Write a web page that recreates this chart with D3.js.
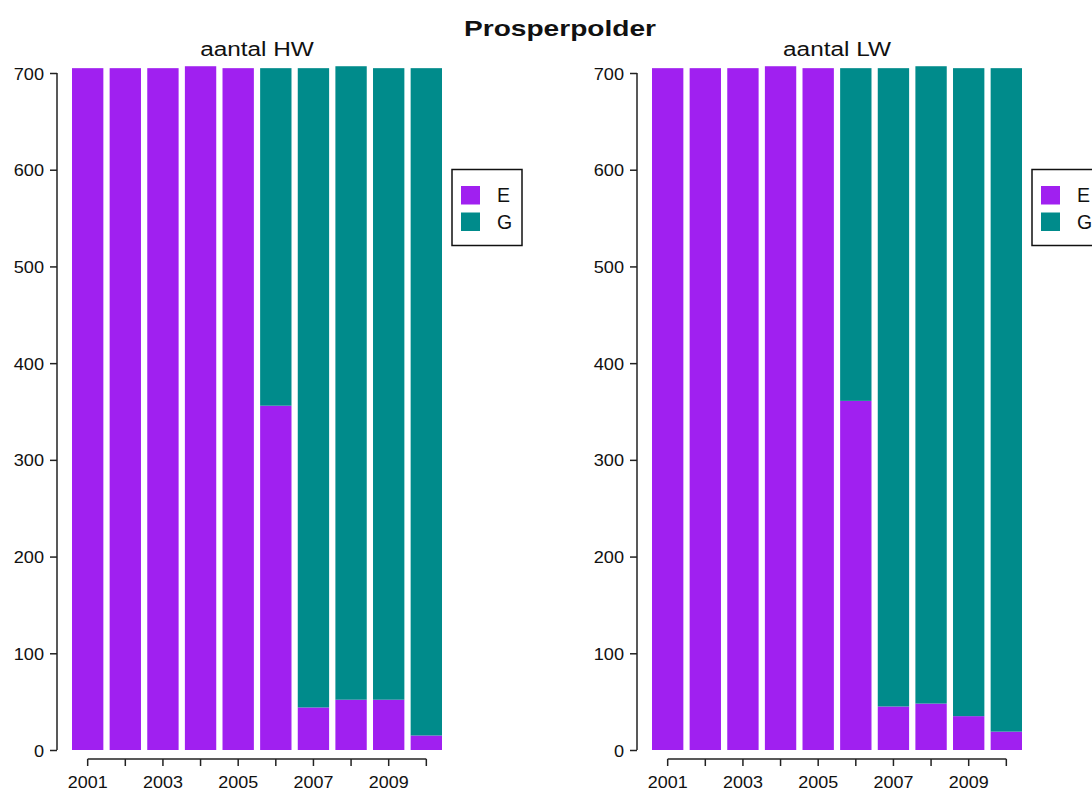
<!DOCTYPE html>
<html>
<head>
<meta charset="utf-8">
<script src="https://cdn.jsdelivr.net/npm/d3@7"></script>
<style>
  html, body { margin: 0; padding: 0; background: #fff; }
  svg { display: block; font-family: "Liberation Sans", Arial, Helvetica, sans-serif; }
</style>
</head>
<body>
<svg id="chart" width="1092" height="791"></svg>
<script>
// ---- data ----
const years = [2001, 2002, 2003, 2004, 2005, 2006, 2007, 2008, 2009, 2010];
const seriesKeys = ["E", "G"];
const hwE = [705, 705, 705, 707, 705, 356, 44, 52, 52, 15];
const hwG = [0, 0, 0, 0, 0, 349, 661, 655, 653, 690];
const lwE = [705, 705, 705, 707, 705, 361, 45, 48, 35, 19];
const lwG = [0, 0, 0, 0, 0, 344, 660, 659, 670, 686];
const yTicks = [0, 100, 200, 300, 400, 500, 600, 700];
const xLabelYears = [2001, 2003, 2005, 2007, 2009];
const mainTitle = "Prosperpolder";
const panelTitles = ["aantal HW", "aantal LW"];

const colors = { E: "#A020F0", G: "#008B8B" };
const svg = d3.select("#chart");

function stretchText(g, x, y, txt, size, sx, anchor, weight) {
  g.append("text")
    .attr("transform", `translate(${x},${y}) scale(${sx},1)`)
    .attr("text-anchor", anchor || "middle")
    .attr("font-size", size)
    .attr("font-weight", weight || "normal")
    .attr("fill", "#111")
    .text(txt);
}

stretchText(svg, 560, 36, mainTitle, 22.5, 1.25, "middle", "bold");

const panels = [
  { E: hwE, G: hwG, title: panelTitles[0], dx: 0 },
  { E: lwE, G: lwG, title: panelTitles[1], dx: 580 }
];

const y = d3.scaleLinear().domain([0, 700]).range([750, 73]);

panels.forEach(p => {
  const g = svg.append("g").attr("transform", `translate(${p.dx},0)`);
  const x = d3.scaleBand().domain(years).range([72, 442]).paddingInner(1 / 6).paddingOuter(0);
  const rows = years.map((yr, i) => ({ year: yr, E: p.E[i], G: p.G[i] }));
  const stacked = d3.stack().keys(seriesKeys)(rows);

  g.selectAll("g.series").data(stacked).join("g")
    .attr("class", "series")
    .attr("fill", d => colors[d.key])
    .selectAll("rect").data(d => d).join("rect")
    .attr("x", d => x(d.data.year))
    .attr("width", x.bandwidth())
    .attr("y", d => y(d[1]))
    .attr("height", d => y(d[0]) - y(d[1]));

  // y axis
  const ya = g.append("g").attr("transform", "translate(57,0)")
    .call(d3.axisLeft(y).tickValues(yTicks).tickSize(7).tickPadding(6).tickFormat(d3.format("d")));
  ya.select(".domain").attr("d", `M0,${y(0)}V${y(700)}`).attr("stroke", "#222").attr("stroke-width", 1.5);
  ya.selectAll(".tick line").attr("stroke", "#222").attr("stroke-width", 1.5);
  ya.selectAll(".tick text").remove();
  ya.selectAll(".tick").each(function (d) {
    stretchText(d3.select(this), -13, 6, d3.format("d")(d), 16.5, 1.1, "end");
  });

  // x axis
  const xa = g.append("g").attr("transform", "translate(0,759)")
    .call(d3.axisBottom(x).tickSize(7).tickFormat(""));
  const c0 = x(years[0]) + x.bandwidth() / 2, c1 = x(years[years.length - 1]) + x.bandwidth() / 2;
  xa.select(".domain").attr("d", `M${c0},0H${c1}`).attr("stroke", "#222").attr("stroke-width", 1.5);
  xa.selectAll(".tick line").attr("stroke", "#222").attr("stroke-width", 1.5);
  xa.selectAll(".tick text").remove();
  xa.selectAll(".tick").filter(d => xLabelYears.includes(d)).each(function (d) {
    stretchText(d3.select(this), 0, 29, String(d), 16, 1.12, "middle");
  });

  // panel title
  stretchText(g, 257, 56, p.title, 19.5, 1.25, "middle");

  // legend
  const lg = g.append("g");
  lg.append("rect").attr("x", 452).attr("y", 169.5).attr("width", 70).attr("height", 76)
    .attr("fill", "#fff").attr("stroke", "#111").attr("stroke-width", 1.5);
  seriesKeys.forEach((k, i) => {
    lg.append("rect").attr("x", 461).attr("y", 186 + i * 26.5).attr("width", 19).attr("height", 18.5)
      .attr("fill", colors[k]);
    stretchText(lg, 497, 202 + i * 26.5, k, 19.5, 1.0, "start");
  });
});
</script>
</body>
</html>
